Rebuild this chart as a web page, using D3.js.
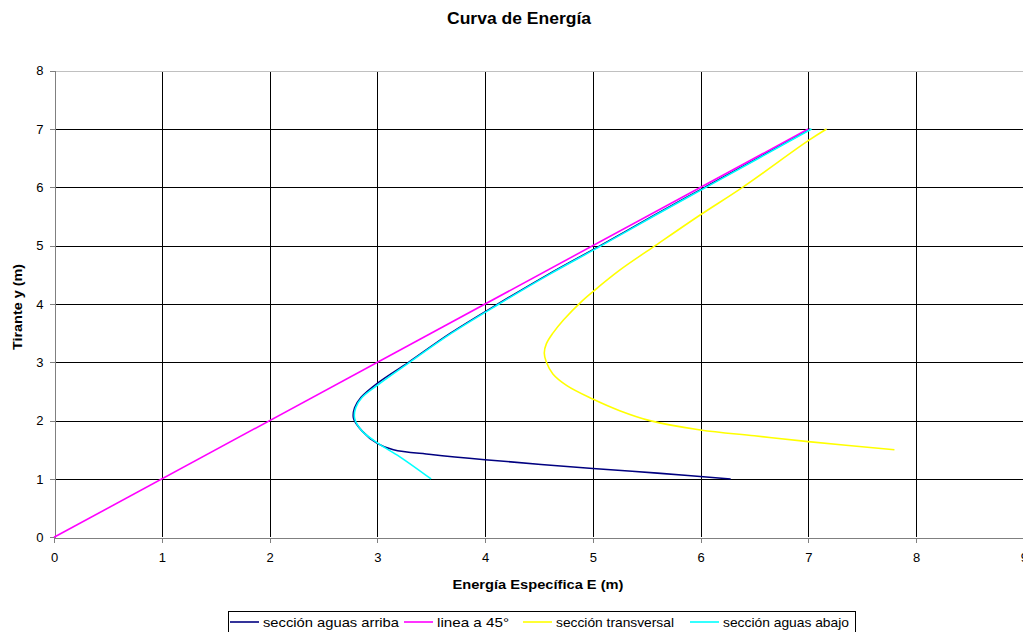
<!DOCTYPE html>
<html>
<head>
<meta charset="utf-8">
<script src="https://cdn.jsdelivr.net/npm/d3@7"></script>
<style>
  html, body { margin: 0; padding: 0; background: #fff; overflow: hidden; }
  svg { display: block; font-family: Arial, "Liberation Sans", sans-serif; }
</style>
</head>
<body>
<svg id="chart" width="1023" height="632"></svg>
<script>
// Specific energy curves: E (m) against depth y (m)
const upstreamE = [6.28, 5.60, 5.00, 4.00, 3.50, 3.15, 3.00, 2.86, 2.78, 2.79, 2.85, 3.00, 3.29, 3.68, 4.12, 4.58, 5.07, 5.55, 6.04, 6.53, 7.02];
const upstreamY = [1.00, 1.10, 1.18, 1.33, 1.42, 1.50, 1.61, 1.82, 2.04, 2.22, 2.40, 2.64, 3.00, 3.50, 4.00, 4.50, 5.00, 5.50, 6.00, 6.50, 7.00];

const lineE = [0, 7];
const lineY = [0, 7];

const sectionE = [7.80, 7.00, 6.50, 6.00, 5.53, 5.25, 5.00, 4.76, 4.63, 4.57, 4.55, 4.57, 4.63, 4.73, 4.90, 5.00, 5.25, 5.58, 6.00, 6.39, 7.00, 7.17];
const sectionY = [1.50, 1.64, 1.74, 1.84, 2.00, 2.17, 2.37, 2.60, 2.80, 3.00, 3.16, 3.32, 3.50, 3.73, 4.05, 4.21, 4.58, 5.00, 5.53, 6.00, 6.80, 7.00];

const downstreamE = [3.50, 3.21, 3.00, 2.86, 2.79, 2.80, 2.86, 3.01, 3.30, 3.69, 4.13, 4.59, 5.08, 5.56, 6.05, 6.54, 7.03];
const downstreamY = [1.00, 1.38, 1.62, 1.82, 2.04, 2.22, 2.40, 2.62, 3.00, 3.50, 4.00, 4.50, 5.00, 5.50, 6.00, 6.50, 7.00];

const xTicks = [0, 1, 2, 3, 4, 5, 6, 7, 8, 9];
const yTicks = [0, 1, 2, 3, 4, 5, 6, 7, 8];

const seriesNames = ["sección aguas arriba", "linea a 45°", "sección transversal", "sección aguas abajo"];
const seriesColors = ["#000080", "#FF00FF", "#FFFF00", "#00FFFF"];

const svg = d3.select("#chart");

const x = d3.scaleLinear().domain([0, 9]).range([54, 1023.75]);
const y = d3.scaleLinear().domain([0, 8]).range([537.3, 70.7]);

// Title
svg.append("text")
  .attr("x", 519).attr("y", 24)
  .attr("text-anchor", "middle")
  .attr("font-size", 16).attr("font-weight", "bold")
  .attr("textLength", 144).attr("lengthAdjust", "spacingAndGlyphs")
  .text("Curva de Energía");

// Gridlines
const grid = svg.append("g").attr("shape-rendering", "crispEdges");
grid.selectAll(".gx").data(xTicks.filter(d => d > 0 && d < 9)).join("line")
  .attr("x1", d => Math.round(x(d)) + 0.5).attr("x2", d => Math.round(x(d)) + 0.5)
  .attr("y1", y(8)).attr("y2", y(0))
  .attr("stroke", "#000").attr("stroke-width", 1);
grid.selectAll(".gy").data(yTicks.filter(d => d > 0 && d < 8)).join("line")
  .attr("x1", x(0)).attr("x2", 1023)
  .attr("y1", d => Math.round(y(d)) + 0.5).attr("y2", d => Math.round(y(d)) + 0.5)
  .attr("stroke", "#000").attr("stroke-width", 1);
// top border of the plot area
grid.append("line")
  .attr("x1", x(0)).attr("x2", 1023)
  .attr("y1", Math.round(y(8)) + 0.5).attr("y2", Math.round(y(8)) + 0.5)
  .attr("stroke", "#c0c0c0");

// Axes
const xAxis = d3.axisBottom(x).tickValues(xTicks).tickSize(5).tickPadding(10).tickFormat(d3.format("d"));
const yAxis = d3.axisLeft(y).tickValues(yTicks).tickSize(5).tickPadding(6).tickFormat(d3.format("d"));

const gx = svg.append("g").attr("transform", `translate(0,${Math.round(y(0)) + 0.5})`).call(xAxis);
const gy = svg.append("g").attr("transform", `translate(${Math.round(x(0)) + 0.5},0)`).call(yAxis);
[gx, gy].forEach(g => {
  g.select(".domain").attr("stroke", "#808080").attr("stroke-width", 1);
  g.selectAll(".tick line").attr("stroke", "#808080");
  g.selectAll(".tick text").attr("font-size", 13).attr("font-family", "Arial, 'Liberation Sans', sans-serif").attr("fill", "#000");
  g.attr("shape-rendering", "crispEdges");
});
gx.selectAll(".tick text").attr("dy", "0.71em");

// Axis titles
svg.append("text")
  .attr("x", 538).attr("y", 589)
  .attr("text-anchor", "middle")
  .attr("font-size", 13).attr("font-weight", "bold")
  .attr("textLength", 171).attr("lengthAdjust", "spacingAndGlyphs")
  .text("Energía Específica E (m)");
svg.append("text")
  .attr("transform", `translate(22,${(y(0) + y(8)) / 2 + 3}) rotate(-90)`)
  .attr("text-anchor", "middle")
  .attr("font-size", 13).attr("font-weight", "bold")
  .attr("textLength", 86).attr("lengthAdjust", "spacingAndGlyphs")
  .text("Tirante y (m)");

// Curves
const series = [
  [upstreamE, upstreamY],
  [lineE, lineY],
  [sectionE, sectionY],
  [downstreamE, downstreamY]
];
const line = d3.line()
  .x(d => x(d[0])).y(d => y(d[1]))
  .curve(d3.curveCatmullRom.alpha(0.5));

const plot = svg.append("g");
series.forEach(([es, ys], i) => {
  plot.append("path")
    .datum(es.map((e, k) => [e, ys[k]]))
    .attr("d", line)
    .attr("fill", "none")
    .attr("stroke", seriesColors[i])
    .attr("stroke-width", 1.6)
    .attr("stroke-linejoin", "round");
});

// Legend
const legend = svg.append("g");
legend.append("rect")
  .attr("x", 228.5).attr("y", 611.5).attr("width", 627).attr("height", 24)
  .attr("fill", "#fff").attr("stroke", "#000").attr("shape-rendering", "crispEdges");
const legendX = [230, 404, 523, 690];
const legendTextLen = [136, 72, 118, 126];
seriesNames.forEach((name, i) => {
  legend.append("line")
    .attr("x1", legendX[i]).attr("x2", legendX[i] + 29)
    .attr("y1", 622).attr("y2", 622)
    .attr("stroke", seriesColors[i]).attr("stroke-width", 1.6);
  legend.append("text")
    .attr("x", legendX[i] + 33).attr("y", 626.5)
    .attr("font-size", 13)
    .attr("textLength", legendTextLen[i]).attr("lengthAdjust", "spacingAndGlyphs")
    .text(name);
});
</script>
</body>
</html>
